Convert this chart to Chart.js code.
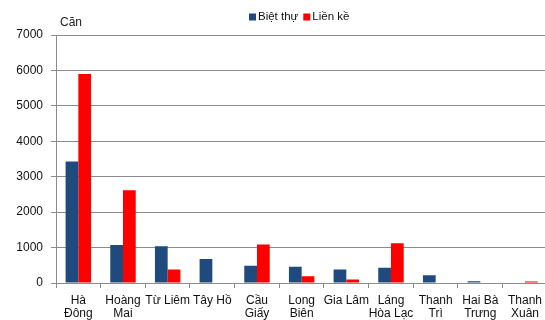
<!DOCTYPE html>
<html>
<head>
<meta charset="utf-8">
<script src="https://cdn.jsdelivr.net/npm/chart.js@4/dist/chart.umd.min.js"></script>
<style>
  html, body { margin: 0; padding: 0; background: #fff; overflow: hidden; }
  #wrap { width: 545px; height: 320px; overflow: hidden; position: relative; }
  #wrap canvas { position: absolute; left: 0; top: 0; }
</style>
</head>
<body>
<div id="wrap"><canvas id="c" width="548" height="320"></canvas></div>
<script>
// Districts (two-line labels)
const districts = [
  ['Hà', 'Đông'], ['Hoàng', 'Mai'], ['Từ Liêm'], ['Tây Hồ'], ['Cầu', 'Giấy'],
  ['Long', 'Biên'], ['Gia Lâm'], ['Láng', 'Hòa Lạc'], ['Thanh', 'Trì'],
  ['Hai Bà', 'Trưng'], ['Thanh', 'Xuân']
];
// Number of units per district
const bietThu = [3430, 1070, 1040, 680, 490, 460, 380, 430, 220, 50, 0];
const lienKe  = [5900, 2620, 380, 0, 1090, 190, 100, 1120, 0, 0, 40];
const seriesNames = ['Biệt thự', 'Liền kề'];
const yTicks = [0, 1000, 2000, 3000, 4000, 5000, 6000, 7000];
const unitLabel = 'Căn';

const FONT = 'Liberation Sans, Arial, sans-serif';
const BLUE = '#1f4a7e';
const RED = '#ff0000';

// Draws the unit caption and the compact legend above the plot
const decorations = {
  id: 'decorations',
  afterDraw(chart) {
    const ctx = chart.ctx;
    const area = chart.chartArea;
    ctx.save();
    ctx.fillStyle = '#222';
    ctx.font = '12px ' + FONT;
    ctx.textBaseline = 'middle';
    ctx.textAlign = 'left';
    ctx.fillText(unitLabel, area.left + 4, 23);

    ctx.font = '11.5px ' + FONT;
    let x = 249;
    const y = 17;
    chart.data.datasets.forEach((ds) => {
      ctx.fillStyle = ds.backgroundColor;
      ctx.fillRect(x, y - 3.5, 7, 7);
      ctx.fillStyle = '#111';
      ctx.fillText(ds.label, x + 9, y);
      x += 9 + ctx.measureText(ds.label).width + 5;
    });
    ctx.restore();
  }
};

new Chart(document.getElementById('c'), {
  type: 'bar',
  data: {
    labels: districts,
    datasets: [
      { label: seriesNames[0], data: bietThu, backgroundColor: BLUE },
      { label: seriesNames[1], data: lienKe, backgroundColor: RED }
    ]
  },
  options: {
    responsive: false,
    animation: false,
    devicePixelRatio: 1,
    layout: { padding: { top: 35, right: 0, left: 0, bottom: 0 } },
    datasets: {
      bar: { categoryPercentage: 0.57, barPercentage: 1.0 }
    },
    plugins: {
      legend: { display: false },
      tooltip: { enabled: false }
    },
    scales: {
      x: {
        grid: {
          offset: true,
          drawOnChartArea: false,
          drawTicks: true,
          tickLength: 5,
          color: '#8c8c8c'
        },
        border: { color: '#8c8c8c', width: 1 },
        ticks: {
          color: '#111',
          font: { family: FONT, size: 12, lineHeight: 1.12 },
          padding: 6,
          maxRotation: 0,
          autoSkip: false
        },
        afterFit(scale) { scale.height = 37; }
      },
      y: {
        min: 0,
        max: 7000,
        afterBuildTicks(scale) { scale.ticks = yTicks.map(v => ({ value: v })); },
        grid: {
          color: '#8c8c8c',
          drawTicks: true,
          tickLength: 5
        },
        border: { color: '#8c8c8c', width: 1 },
        ticks: {
          color: '#111',
          font: { family: FONT, size: 12 },
          padding: 8,
          callback: (v) => String(v)
        },
        afterFit(scale) { scale.width = 56; }
      }
    }
  },
  plugins: [decorations]
});
</script>
</body>
</html>
